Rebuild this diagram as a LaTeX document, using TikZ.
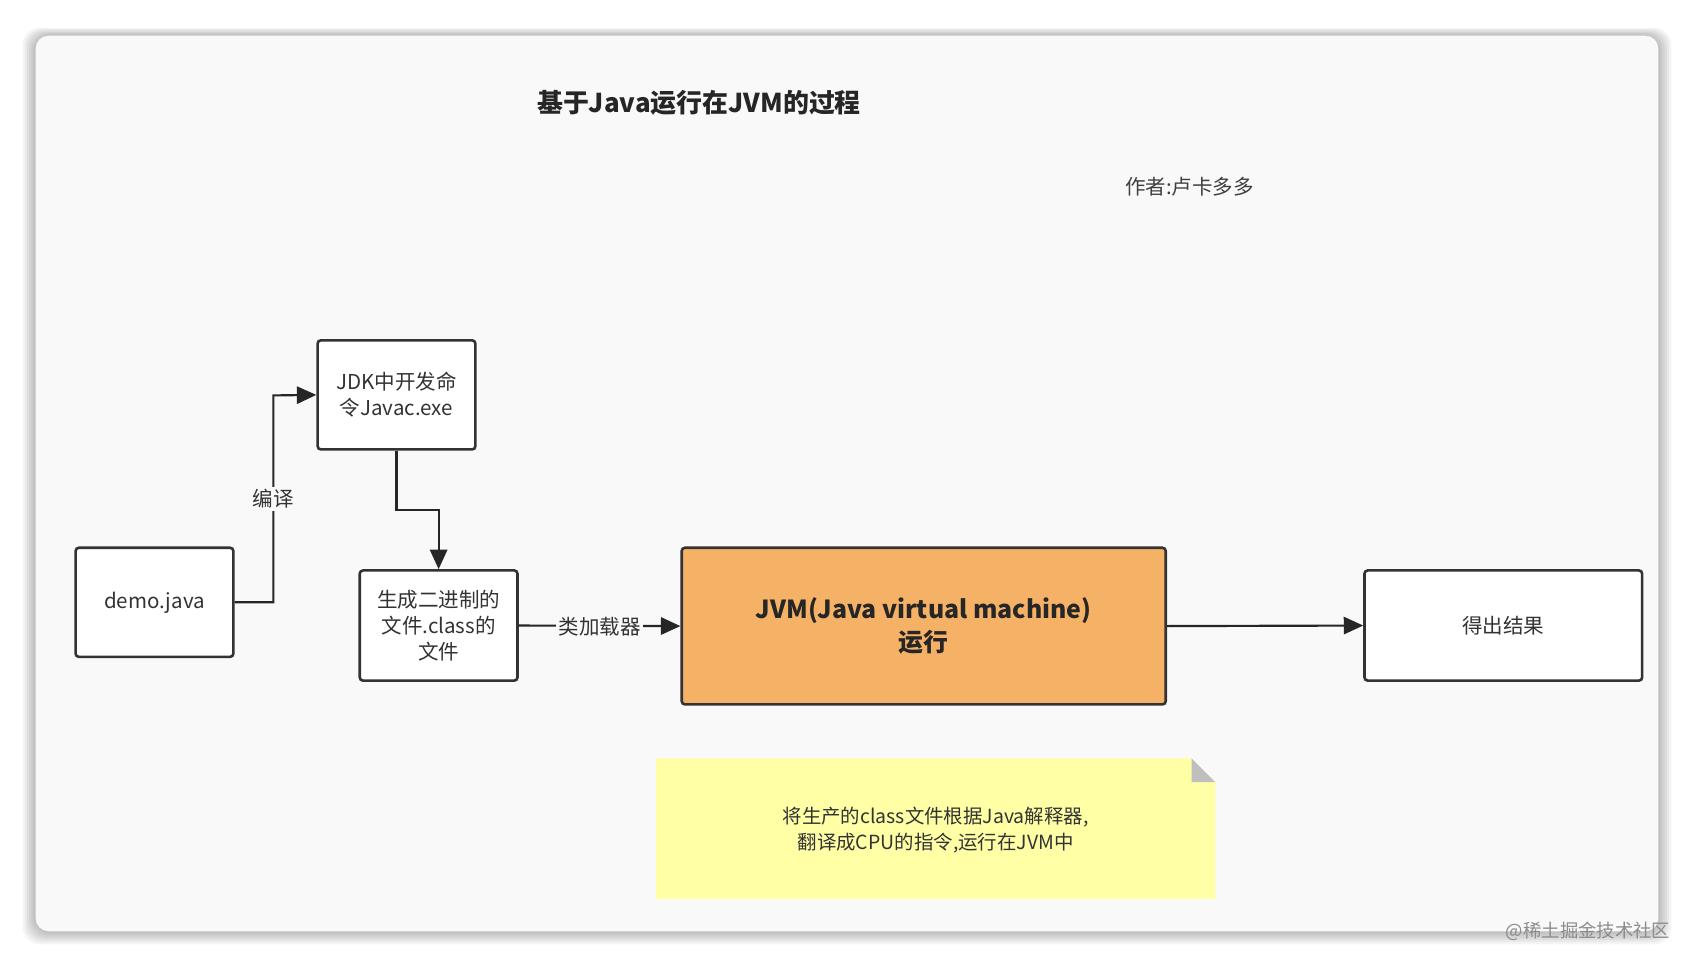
\documentclass[tikz,border=0pt]{standalone}
\usepackage{fontspec}
\setmainfont{Noto Sans CJK SC}
\usetikzlibrary{arrows.meta}
\definecolor{jvmorange}{RGB}{245,178,102}
\definecolor{noteyellow}{RGB}{255,255,166}
\definecolor{cardbg}{RGB}{249,249,249}
\begin{document}
\begin{tikzpicture}[x=0.5pt,y=-0.5pt,
  box/.style={draw=black!80,line width=1.2pt,rounded corners=1.5pt,fill=white,align=center,font=\fontsize{9.5}{12}\selectfont,text=black!80,inner sep=0pt},
  conn/.style={draw=black!85,line width=1pt,-{Triangle[length=9pt,width=8pt]}},
  lab/.style={fill=cardbg,font=\fontsize{9.5}{11}\selectfont,text=black!80,inner sep=1pt}]
\useasboundingbox (0,0) rectangle (1568,896);
\fill[white] (0,0) rectangle (1568,896);
\foreach \i in {12,10,...,2}{
  \pgfmathsetmacro\op{0.045}
  \fill[black,opacity=\op,rounded corners=8pt] (33-\i,33-\i*0.6) rectangle (1535+\i,862+\i);
}
\fill[cardbg,rounded corners=6pt] (33,33) rectangle (1535,862);
\node[font=\bfseries\fontsize{12}{14}\selectfont,text=black!85] (title) at (647,95) {基于Java运行在JVM的过程};
\node[font=\fontsize{9.5}{11}\selectfont,text=black!75] (author) at (1101,173) {作者:卢卡多多};
\node[box,minimum width=73pt,minimum height=50.5pt] (jdk) at (367,365.5) {JDK中开发命\\令Javac.exe};
\node[box,minimum width=73pt,minimum height=50.5pt] (demo) at (143,557.5) {demo.java};
\node[box,minimum width=73pt,minimum height=51pt] (gen) at (406,579) {生成二进制的\\文件.class的\\文件};
\node[box,fill=jvmorange,minimum width=224pt,minimum height=72.5pt,font=\bfseries\fontsize{11.5}{15}\selectfont,text=black!85] (jvm) at (855,579.5) {JVM(Java virtual machine)\\运行};
\node[box,minimum width=128.5pt,minimum height=51pt] (res) at (1391.5,579) {得出结果};
\fill[noteyellow] (607,702) -- (1103,702) -- (1125,724) -- (1125,832) -- (607,832) -- cycle;
\fill[black!25] (1103,702) -- (1125,724) -- (1103,724) -- cycle;
\node[align=center,font=\fontsize{9}{12}\selectfont,text=black!80] (note) at (866,768) {将生产的class文件根据Java解释器,\\翻译成CPU的指令,运行在JVM中};
\node[font=\fontsize{8.5}{10}\selectfont,text=black!45] (wm) at (1470,862) {@稀土掘金技术社区};
\coordinate (a1) at (253,557.5);
\coordinate (a2) at (253,366);
\draw[conn] (demo.east) -- (a1) -- (a2) -- (jdk.west);
\node[lab] (l1) at (253,462) {编译};
\coordinate (b1) at (367,472);
\coordinate (b2) at (406,472);
\draw[conn] (jdk.south) -- (b1) -- (b2) -- (gen.north);
\draw[conn] (gen.east) -- (jvm.west);
\node[lab] (l2) at (555,580) {类加载器};
\draw[conn] (jvm.east) -- (res.west);
\end{tikzpicture}
\end{document}
